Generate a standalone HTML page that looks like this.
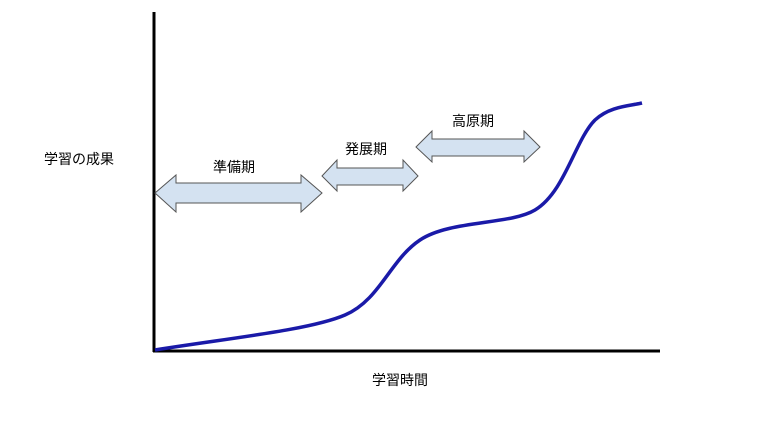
<!DOCTYPE html>
<html><head><meta charset="utf-8"><style>
html,body{margin:0;padding:0;background:#fff;}
svg text{font-family:"Liberation Sans","Noto Sans CJK JP",sans-serif;font-size:14px;fill:#000;}
</style></head><body>
<svg width="768" height="422" viewBox="0 0 768 422" xmlns="http://www.w3.org/2000/svg">
<line x1="154" y1="12" x2="154" y2="352" stroke="#000" stroke-width="3"/>
<line x1="153" y1="351" x2="660" y2="351" stroke="#000" stroke-width="3"/>
<path d="M155,350 C230,338 310,330 345,315 C380,300 390,260 420,240 C450,220 510,225 535,210 C565,192 575,140 595,120 C610,106 630,106 642,103" fill="none" stroke="#1a1aa8" stroke-width="3.5"/>
<g fill="#d4e2f1" stroke="#555" stroke-width="1">
<path d="M155,193 L176,175 L176,183 L301,183 L301,175 L322,193 L301,212 L301,203 L176,203 L176,212 Z"/>
<path d="M322,176 L337,160 L337,168 L403,168 L403,160 L418,176 L403,191 L403,185 L337,185 L337,191 Z"/>
<path d="M416,147 L432,131 L432,139 L524,139 L524,131 L540,147 L524,162 L524,156 L432,156 L432,162 Z"/>
</g>
<text x="213" y="172">準備期</text>
<text x="345" y="154">発展期</text>
<text x="452" y="126">高原期</text>
<text x="44" y="164">学習の成果</text>
<text x="372" y="385">学習時間</text>
</svg>
</body></html>
